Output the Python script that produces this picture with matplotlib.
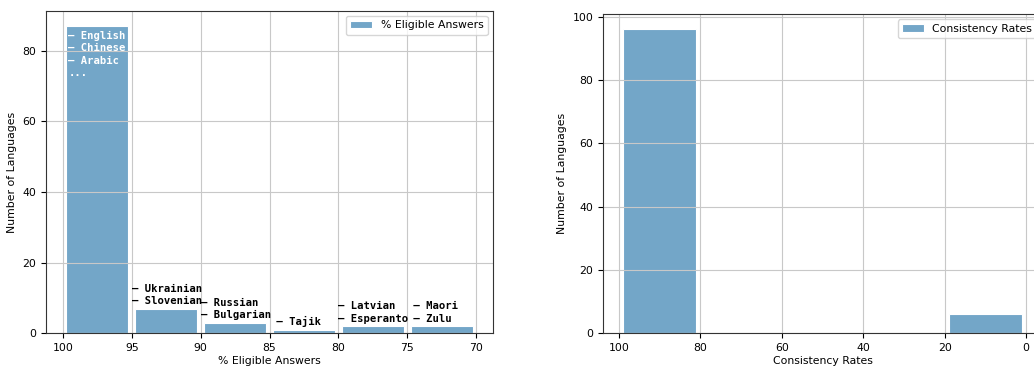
import numpy as np
import matplotlib
matplotlib.use('Agg')
from matplotlib import pyplot as plt

# left panel: % eligible answers, bins of 5 from 100 down to 70
elig_edges = [100, 95, 90, 85, 80, 75, 70]
elig_counts = [87, 7, 3, 1, 2, 2]
elig_labels = ['– English\n– Chinese\n– Arabic\n...',
               '– Ukrainian\n– Slovenian',
               '– Russian\n– Bulgarian',
               ' – Tajik',
               '– Latvian\n– Esperanto',
               ' – Maori\n – Zulu']

# right panel: consistency rates, bins of 20 from 100 down to 0
cons_edges = [100, 80, 60, 40, 20, 0]
cons_counts = [96, 0, 0, 0, 6]

bar_color = '#73a6c8'
fs = 7.8
mono = 7.6

plt.rcParams['font.size'] = fs
plt.rcParams['xtick.labelsize'] = fs
plt.rcParams['ytick.labelsize'] = fs

fig = plt.figure(figsize=(10.34, 3.69), dpi=100)
ax1 = fig.add_axes([0.0445, 0.0967, 0.4323, 0.8743])
ax2 = fig.add_axes([0.5832, 0.0967, 0.4246, 0.8653])


def draw_hist(ax, edges, counts, label):
    edges = np.array(edges, dtype=float)
    centers = (edges[:-1] + edges[1:]) / 2
    width = np.abs(np.diff(edges)) * 0.9
    ax.bar(centers, counts, width=width, color=bar_color, edgecolor='white',
           linewidth=0.8, label=label)
    ax.grid(True, color='#c8c8c8', linewidth=0.8)
    ax.invert_xaxis()
    ax.set_ylabel('Number of Languages', fontsize=fs)
    ax.set_xlabel(label, fontsize=fs, labelpad=2)
    for s in ax.spines.values():
        s.set_color('#333333')


draw_hist(ax1, elig_edges, elig_counts, '% Eligible Answers')
ax1.set_xticks([100, 95, 90, 85, 80, 75, 70])
ax1.set_yticks([0, 20, 40, 60, 80])
ax1.legend(loc='upper right', fontsize=fs)

for i, txt in enumerate(elig_labels):
    x0 = elig_edges[i]
    h = elig_counts[i]
    if i == 0:
        ax1.text(x0 - 0.4, h - 1.4, txt, color='white', family='DejaVu Sans Mono',
                 fontweight='bold', fontsize=mono, va='top', ha='left', linespacing=1.3)
    else:
        ax1.text(x0, h + 0.7, txt, color='black', family='DejaVu Sans Mono',
                 fontweight='bold', fontsize=mono, va='bottom', ha='left', linespacing=1.3)

draw_hist(ax2, cons_edges, cons_counts, 'Consistency Rates')
ax2.set_xticks([100, 80, 60, 40, 20, 0])
ax2.set_yticks([0, 20, 40, 60, 80, 100])
ax2.legend(loc='upper right', fontsize=fs)

fig.savefig('out.png', dpi=100)
